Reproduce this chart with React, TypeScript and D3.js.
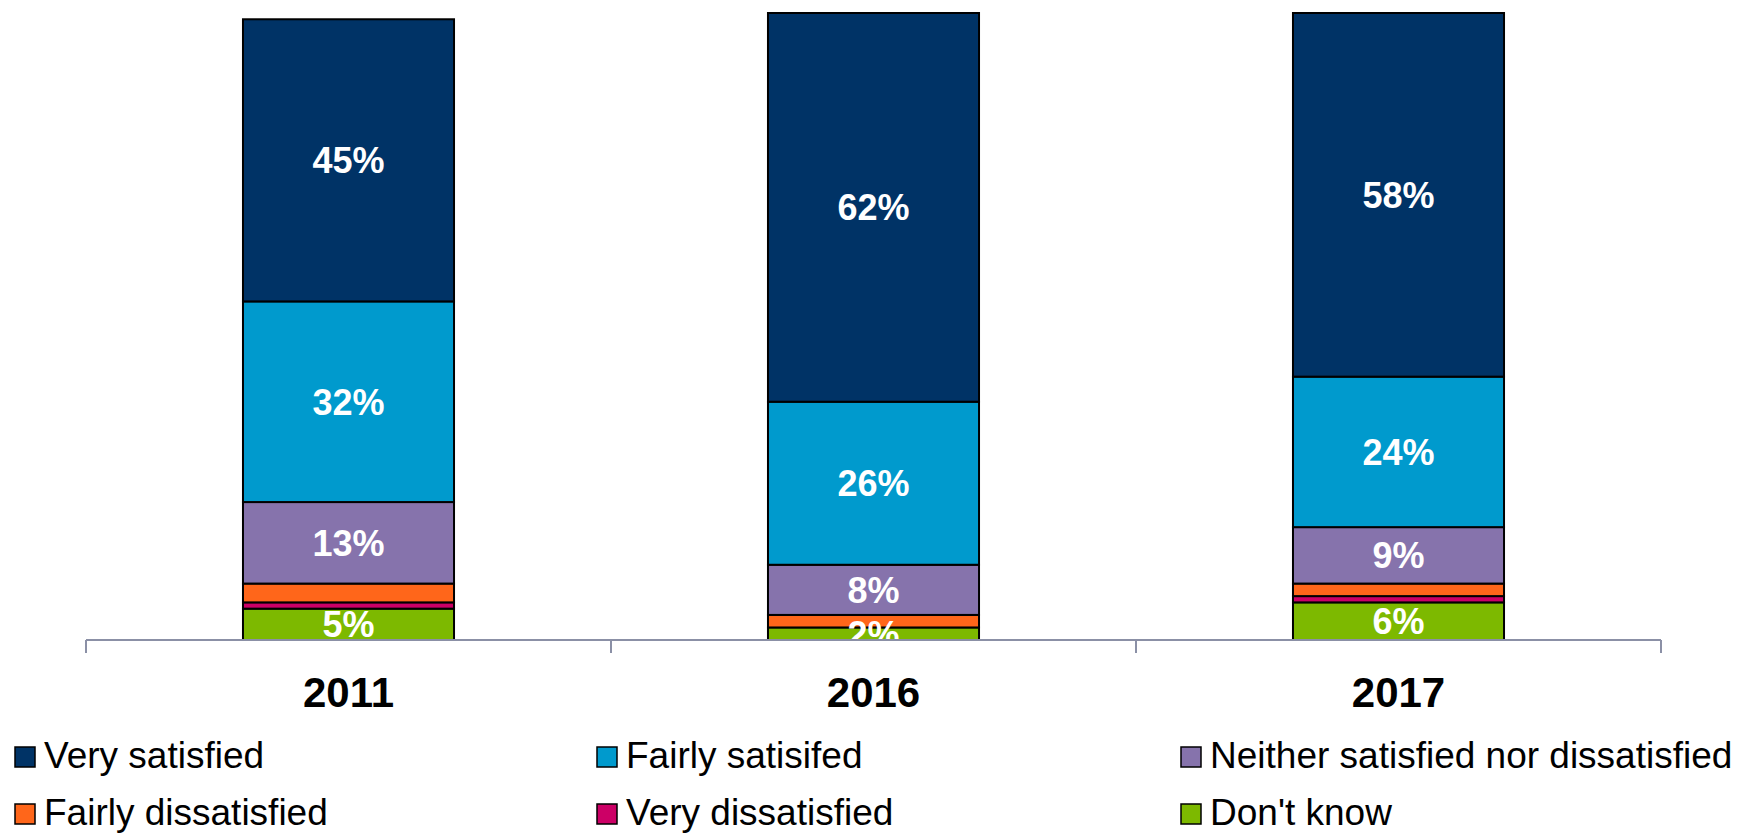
import React from "react";
import * as d3 from "d3";

const years = ["2011", "2016", "2017"];
const seriesNames = [
  "Don't know",
  "Very dissatisfied",
  "Fairly dissatisfied",
  "Neither satisfied nor dissatisfied",
  "Fairly satisifed",
  "Very satisfied",
];
const dontKnow = [5, 2, 6];
const veryDissatisfied = [1, 0, 1];
const fairlyDissatisfied = [3, 2, 2];
const neither = [13, 8, 9];
const fairlySatisfied = [32, 26, 24];
const verySatisfied = [45, 62, 58];
const seriesValues = [dontKnow, veryDissatisfied, fairlyDissatisfied, neither, fairlySatisfied, verySatisfied];
const seriesColors = ["#7DB900", "#CC0066", "#FF661A", "#8673AC", "#009ACD", "#003366"];
const labelled = [true, false, false, true, true, true];

const legendOrder = [
  "Very satisfied",
  "Fairly satisifed",
  "Neither satisfied nor dissatisfied",
  "Fairly dissatisfied",
  "Very dissatisfied",
  "Don't know",
];

const W = 1737;
const H = 834;

export default function App() {
  const x = d3.scaleBand<string>().domain(years).range([86, 1661]).padding(0);
  const y = d3.scaleLinear().domain([0, 100]).range([640, 13]);
  const barW = x.bandwidth() * 0.402;

  const rows = years.map((yr, i) => {
    const obj: any = { year: yr };
    seriesNames.forEach((s, j) => (obj[s] = seriesValues[j][i]));
    return obj;
  });
  const stack = d3.stack<any>().keys(seriesNames)(rows);

  const font = "'Liberation Sans', Arial, sans-serif";
  const legendCols = [15, 597, 1181];
  const legendRows = [768, 825];

  return (
    <svg width={W} height={H} style={{ position: "absolute", left: 0, top: 0, background: "#fff" }}>
      <defs>
        <clipPath id="plot">
          <rect x={0} y={0} width={W} height={640} />
        </clipPath>
      </defs>
      {stack.map((layer, j) => (
        <g key={seriesNames[j]}>
          {layer.map((d, i) => {
            const h = y(d[0]) - y(d[1]);
            if (h <= 0) return null;
            const cx = (x(years[i]) as number) + x.bandwidth() / 2;
            return (
              <rect
                key={i}
                x={cx - barW / 2}
                y={y(d[1])}
                width={barW}
                height={h}
                fill={seriesColors[j]}
                stroke="#000"
                strokeWidth={2}
              />
            );
          })}
        </g>
      ))}
      <g clipPath="url(#plot)">
        {stack.map((layer, j) =>
          labelled[j]
            ? layer.map((d, i) => {
                const v = d[1] - d[0];
                if (v <= 0) return null;
                const cx = (x(years[i]) as number) + x.bandwidth() / 2;
                const cy = (y(d[0]) + y(d[1])) / 2;
                return (
                  <text
                    key={`${j}-${i}`}
                    x={cx}
                    y={cy}
                    dy="0.36em"
                    textAnchor="middle"
                    fill="#fff"
                    fontFamily={font}
                    fontWeight="bold"
                    fontSize={36}
                  >
                    {`${v}%`}
                  </text>
                );
              })
            : null
        )}
      </g>
      <g stroke="#8B90A6" strokeWidth={2}>
        <line x1={86} x2={1661} y1={640} y2={640} />
        {[...years.map((yr) => x(yr) as number), 1661].map((tx, i) => (
          <line key={i} x1={tx} x2={tx} y1={640} y2={653} />
        ))}
      </g>
      {years.map((yr) => (
        <text
          key={yr}
          x={(x(yr) as number) + x.bandwidth() / 2}
          y={707}
          textAnchor="middle"
          fontFamily={font}
          fontWeight="bold"
          fontSize={42}
          fill="#000"
        >
          {yr}
        </text>
      ))}
      {legendOrder.map((name, k) => {
        const col = k % 3;
        const row = Math.floor(k / 3);
        const j = seriesNames.indexOf(name);
        const lx = legendCols[col];
        const ly = legendRows[row];
        return (
          <g key={name}>
            <rect x={lx} y={ly - 21} width={20} height={20} fill={seriesColors[j]} stroke="#000" strokeWidth={1.5} />
            <text x={lx + 29} y={ly} fontFamily={font} fontSize={37} fill="#000">
              {name}
            </text>
          </g>
        );
      })}
    </svg>
  );
}
